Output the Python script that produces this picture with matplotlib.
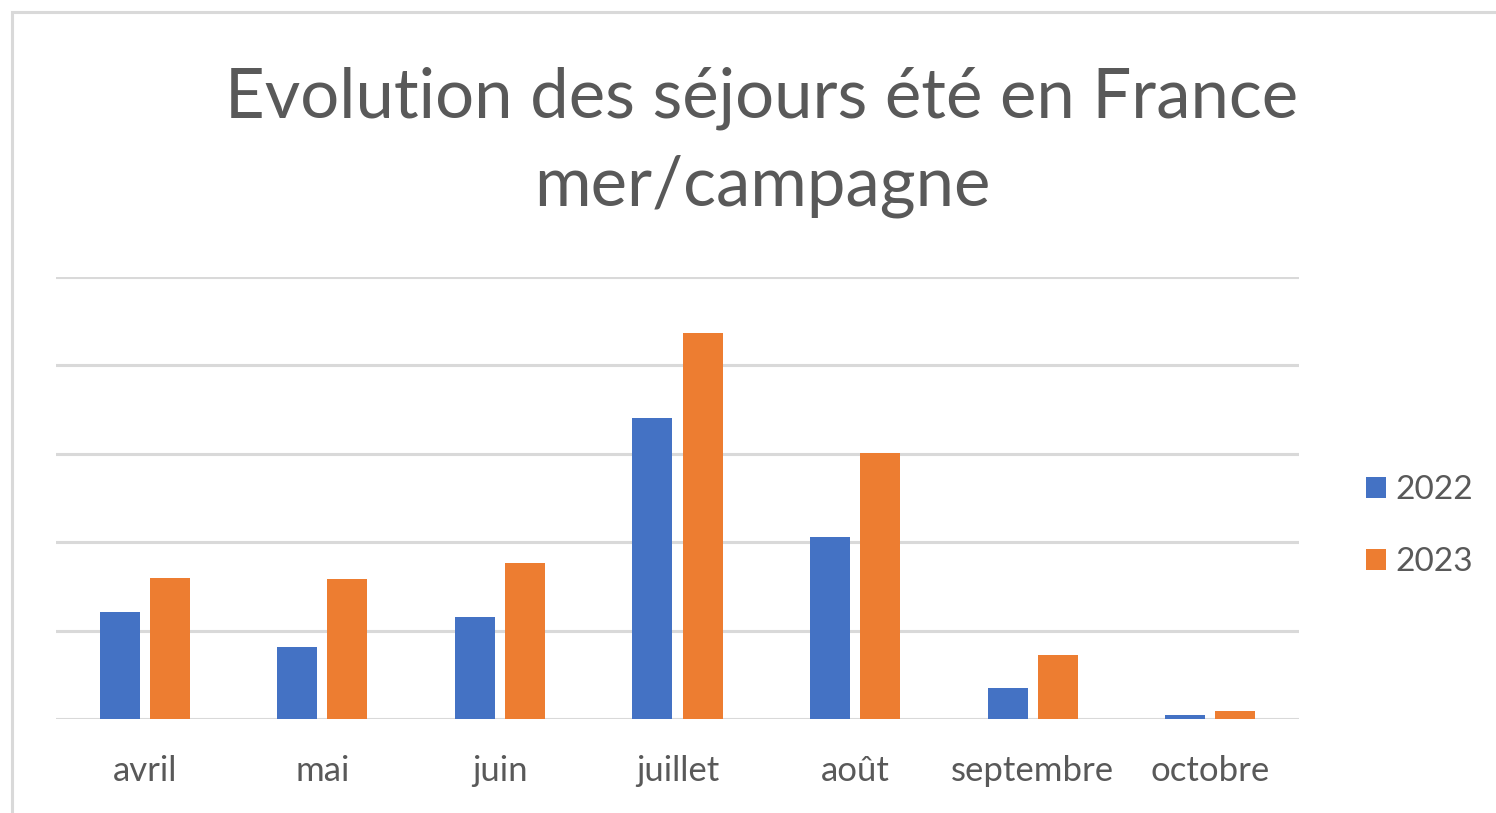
import matplotlib
matplotlib.use("Agg")
import matplotlib.pyplot as plt
import numpy as np
from matplotlib.patches import Rectangle

months = ["avril", "mai", "juin", "juillet", "août", "septembre", "octobre"]
series_names = ["2022", "2023"]
values_2022 = [1.21, 0.81, 1.15, 3.40, 2.06, 0.35, 0.04]
values_2023 = [1.60, 1.58, 1.76, 4.37, 3.01, 0.72, 0.085]
colors = ["#4472C4", "#ED7D31"]
title_lines = ["Evolution des séjours été en France", "mer/campagne"]

W, H = 1496, 813
fig = plt.figure(figsize=(W / 100, H / 100), dpi=100)
plt.rcParams['font.family'] = ['Lato', 'DejaVu Sans']

# outer frame (light gray), cropped at right/bottom
fig.patches.append(Rectangle((12 / W, -0.05), 1.2, 1 - 12 / H + 0.05,
                             transform=fig.transFigure, fill=False,
                             edgecolor="#d9d9d9", linewidth=2.2, zorder=0))

left, right = 56 / W, 1299 / W
bottom, top = 1 - 719 / H, 1 - 277 / H
ax = fig.add_axes([left, bottom, right - left, top - bottom])

x = np.arange(len(months))
bw = 0.225
off = 0.141
ax.bar(x - off, values_2022, bw, color=colors[0], label=series_names[0], zorder=3)
ax.bar(x + off, values_2023, bw, color=colors[1], label=series_names[1], zorder=3)

ax.set_xlim(-0.5, len(months) - 0.5)
ax.set_ylim(0, 5)
ax.set_yticks(np.arange(0, 6, 1))
ax.yaxis.grid(True, color="#d9d9d9", linewidth=2.2, zorder=0)
ax.set_yticklabels([])
ax.tick_params(axis="y", length=0)
ax.tick_params(axis="x", length=0, pad=26, labelsize=25, labelcolor="#595959")
ax.set_xticks(x)
ax.set_xticklabels(months)
for s in ax.spines.values():
    s.set_visible(False)

fig.text(762 / W, 1 - 117 / H, title_lines[0], ha="center", va="baseline",
         fontsize=49.6, color="#595959")
fig.text(762 / W, 1 - 206 / H, title_lines[1], ha="center", va="baseline",
         fontsize=49.6, color="#595959")

leg = ax.legend(loc="center left", bbox_to_anchor=(1366 / W, 1 - 526 / H),
                bbox_transform=fig.transFigure, frameon=False, borderpad=0,
                borderaxespad=0,
                fontsize=24, labelcolor="#595959", handlelength=0.6,
                handleheight=0.6, handletextpad=0.27, labelspacing=1.25)

fig.savefig("out.png", dpi=100)
